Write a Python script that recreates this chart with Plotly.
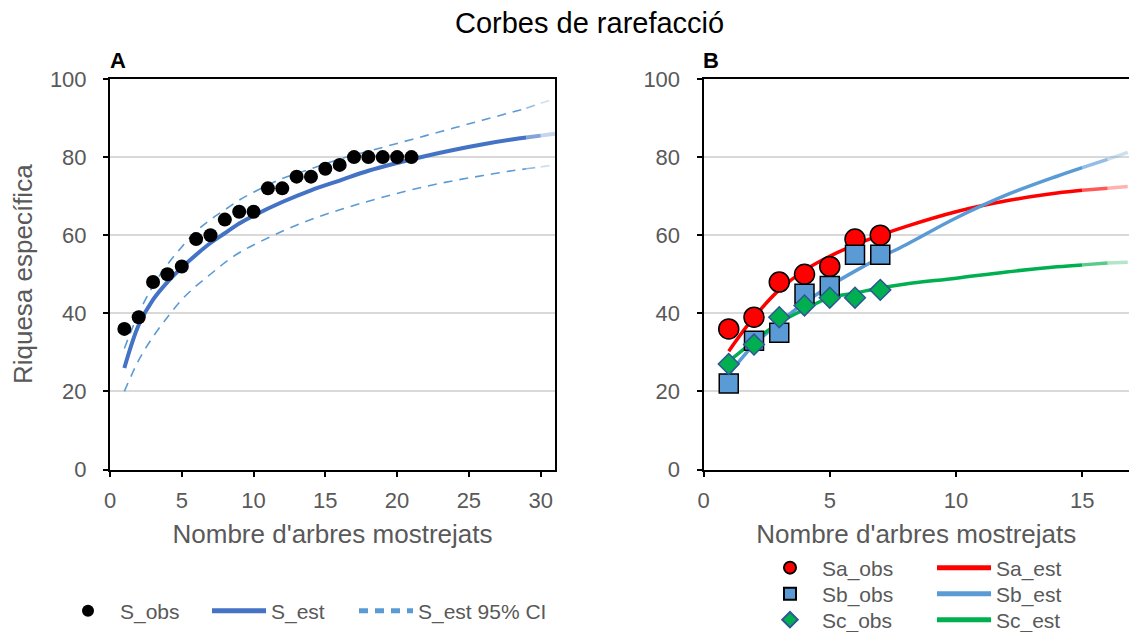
import plotly.graph_objects as go

# ---------------- data ----------------
# Panel A
a_obs_x = list(range(1, 22))
a_obs_y = [36, 39, 48, 50, 52, 59, 60, 64, 66, 66, 72, 72, 75, 75, 77, 78, 80, 80, 80, 80, 80]

a_est_x = [1, 2, 3, 4, 5, 6, 7, 8, 9, 10, 12, 14, 16, 18, 20, 22, 24, 26, 28, 29, 30, 31]
a_est_y = [26, 37, 43.5, 48, 51.7, 55, 58, 60.5, 63, 65, 68.5, 71.5, 74, 76.5, 78.5, 80.3, 81.9, 83.3, 84.5, 85, 85.5, 86]
a_up_y = [31, 40, 47, 52.5, 57, 61, 64, 66.5, 69, 71, 74.5, 77, 79.5, 81.5, 83.5, 85.5, 87.5, 89.5, 91.5, 92.5, 93.8, 95]
a_lo_y = [20, 28, 34, 39, 43.5, 47, 50, 53, 55.5, 57.5, 61, 64, 66.5, 68.7, 70.7, 72.5, 74, 75.3, 76.5, 77, 77.5, 78]

# Panel B
b_obs_x = [1, 2, 3, 4, 5, 6, 7]
sa_obs = [36, 39, 48, 50, 52, 59, 60]
sb_obs = [22, 33, 35, 45, 47, 55, 55]
sc_obs = [27, 32, 39, 42, 44, 44, 46]

b_est_x = [1, 2, 3, 4, 5, 6, 7, 8, 10, 12, 14, 15, 16, 16.8]
sa_est = [30.3, 39, 46, 51, 54.6, 57.5, 60, 62.2, 66, 68.8, 70.8, 71.5, 72, 72.5]
sb_est = [24.3, 32, 37.6, 42.7, 47, 50.8, 54.3, 57.5, 64.4, 70.3, 75.1, 77.3, 79.4, 81.2]
sc_est = [27.7, 32.9, 37.6, 41, 44, 45.2, 46.5, 47.5, 49, 50.6, 51.9, 52.4, 52.9, 53.1]

FONT = "Liberation Sans, Arial, sans-serif"
GRAY = "#595959"
BLUE_D = "#4472C4"
BLUE_L = "#5B9BD5"
RED = "#FF0000"
GREEN = "#00B050"
DASH = "9px,7px"

fig = go.Figure()


def faded(x, y, xaxis, yaxis, color, width, dash=None, n_fade=2):
    """Main spline part + fading tail segments."""
    cut = len(x) - n_fade
    fig.add_trace(go.Scatter(x=x[:cut], y=y[:cut], mode="lines", xaxis=xaxis, yaxis=yaxis,
                             line=dict(color=color, width=width, shape="spline", dash=dash),
                             showlegend=False, hoverinfo="skip"))
    for k in range(n_fade):
        i = cut - 1 + k
        fig.add_trace(go.Scatter(x=x[i:i + 2], y=y[i:i + 2], mode="lines", xaxis=xaxis, yaxis=yaxis,
                                 line=dict(color=color, width=width, dash=dash),
                                 opacity=0.65 - 0.35 * k, showlegend=False, hoverinfo="skip"))


# ---- Panel A ----
faded(a_est_x, a_up_y, "x", "y", BLUE_L, 1.6, dash=DASH)
faded(a_est_x, a_lo_y, "x", "y", BLUE_L, 1.6, dash=DASH)
faded(a_est_x, a_est_y, "x", "y", BLUE_D, 4)
fig.add_trace(go.Scatter(x=a_obs_x, y=a_obs_y, mode="markers", name="S_obs",
                         marker=dict(color="black", size=14), legend="legend"))
fig.add_trace(go.Scatter(x=[None], y=[None], mode="lines", name="S_est",
                         line=dict(color=BLUE_D, width=4), legend="legend4"))
fig.add_trace(go.Scatter(x=[None], y=[None], mode="lines", name="S_est 95% CI",
                         line=dict(color=BLUE_L, width=1.6, dash=DASH), legend="legend5"))

# ---- Panel B ----
faded(b_est_x, sa_est, "x2", "y2", RED, 3.5)
faded(b_est_x, sb_est, "x2", "y2", BLUE_L, 3.5)
faded(b_est_x, sc_est, "x2", "y2", GREEN, 3.5)
fig.add_trace(go.Scatter(x=b_obs_x, y=sa_obs, mode="markers", name="Sa_obs", xaxis="x2", yaxis="y2",
                         marker=dict(color=RED, size=20, symbol="circle", line=dict(color="black", width=1.5)),
                         legend="legend2"))
fig.add_trace(go.Scatter(x=b_obs_x, y=sb_obs, mode="markers", name="Sb_obs", xaxis="x2", yaxis="y2",
                         marker=dict(color=BLUE_L, size=19, symbol="square", line=dict(color="black", width=1.5)),
                         legend="legend6"))
fig.add_trace(go.Scatter(x=b_obs_x, y=sc_obs, mode="markers", name="Sc_obs", xaxis="x2", yaxis="y2",
                         marker=dict(color=GREEN, size=16, symbol="diamond", line=dict(color="#2F5597", width=1.5)),
                         legend="legend7"))
for nm, c, lg in [("Sa_est", RED, "legend3"), ("Sb_est", BLUE_L, "legend8"), ("Sc_est", GREEN, "legend9")]:
    fig.add_trace(go.Scatter(x=[None], y=[None], mode="lines", name=nm, xaxis="x2", yaxis="y2",
                             line=dict(color=c, width=4), legend=lg))

W, H = 1129, 632
TICKF = dict(family=FONT, size=22, color=GRAY)
TITLEF = dict(family=FONT, size=26, color=GRAY)
axis_common = dict(showline=True, linecolor="black", linewidth=2, mirror=True, ticks="outside",
                   ticklen=5, tickwidth=2, tickcolor="black", zeroline=False, tickfont=TICKF)
ydom = [1 - 469.5 / H, 1 - 79 / H]

legfont = dict(family=FONT, size=21, color=GRAY)


def leg(xpx, ypx):
    return dict(orientation="v", x=xpx / W, xanchor="left", y=1 - ypx / H, yanchor="middle",
                font=legfont, itemwidth=54, bgcolor="rgba(0,0,0,0)", itemsizing="constant")


fig.update_layout(
    width=W, height=H, margin=dict(l=0, r=0, t=0, b=0, autoexpand=False),
    paper_bgcolor="white", plot_bgcolor="white",
    font=dict(family=FONT, color=GRAY),
    title=dict(text="Corbes de rarefacció", x=455 / W, xanchor="left", y=1 - 23 / H, yanchor="middle",
               font=dict(family=FONT, size=29, color="black")),
    xaxis=dict(domain=[110 / W, 555 / W], range=[0, 31], tickvals=[0, 5, 10, 15, 20, 25, 30],
               showgrid=False, anchor="y", ticklabelstandoff=5,
               title=dict(text="Nombre d'arbres mostrejats", font=TITLEF, standoff=13),
               **axis_common),
    yaxis=dict(domain=ydom, range=[0, 100], tickvals=[0, 20, 40, 60, 80, 100], anchor="x",
               showgrid=True, gridcolor="#D9D9D9", gridwidth=1.5, ticklabelstandoff=12,
               title=dict(text="Riquesa específica", font=TITLEF, standoff=10), **axis_common),
    xaxis2=dict(domain=[703.5 / W, 1], range=[0, 16.85], tickvals=[0, 5, 10, 15], showgrid=False, anchor="y2",
                ticklabelstandoff=5,
                title=dict(text="Nombre d'arbres mostrejats", font=TITLEF, standoff=13), **axis_common),
    yaxis2=dict(domain=ydom, range=[0, 100], tickvals=[0, 20, 40, 60, 80, 100], anchor="x2",
                showgrid=True, gridcolor="#D9D9D9", gridwidth=1.5, ticklabelstandoff=12, **axis_common),
    legend=leg(56, 611),
    legend4=leg(207, 611),
    legend5=leg(354, 611),
    legend2=leg(758, 568),
    legend6=leg(758, 594),
    legend7=leg(758, 620),
    legend3=leg(932, 568),
    legend8=leg(932, 594),
    legend9=leg(932, 620),
    annotations=[
        dict(text="<b>A</b>", x=118 / W, y=1 - 61 / H, xref="paper", yref="paper", showarrow=False,
             xanchor="center", yanchor="middle", font=dict(family=FONT, size=22, color="black")),
        dict(text="<b>B</b>", x=711 / W, y=1 - 61 / H, xref="paper", yref="paper", showarrow=False,
             xanchor="center", yanchor="middle", font=dict(family=FONT, size=22, color="black")),
    ],
)
# panel B: no right border visible (plot runs off the right edge)
fig.update_layout(yaxis2_mirror=False)

fig.write_html("out.html")
